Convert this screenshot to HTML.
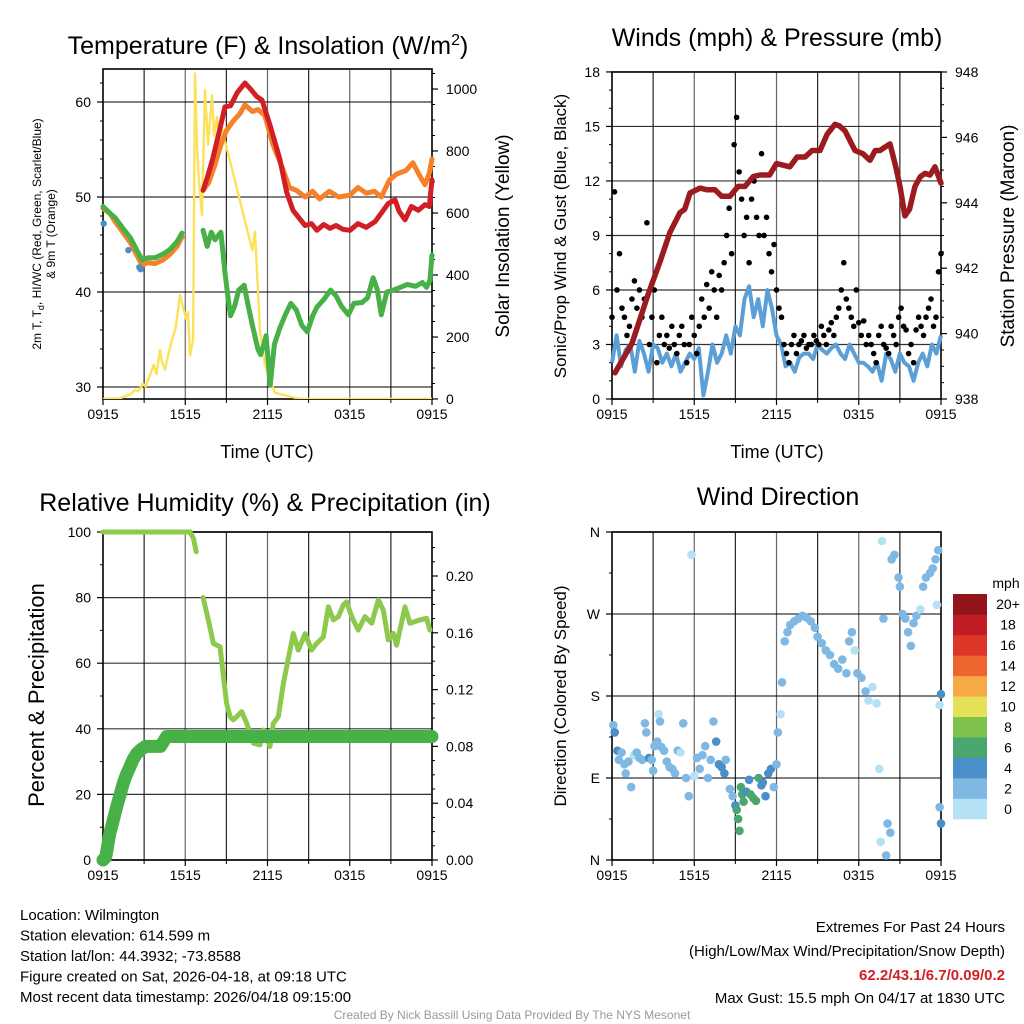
<!DOCTYPE html>
<html><head><meta charset="utf-8">
<style>
html,body{margin:0;padding:0;background:#fff;}
svg{display:block;font-family:"Liberation Sans",Arial,sans-serif;}
</style></head>
<body>
<svg id="c" width="1024" height="1024" viewBox="0 0 1024 1024" xmlns="http://www.w3.org/2000/svg"></svg>
<script>
// ---------- DATA ----------
const xTickLabels = ["0915","1515","2115","0315","0915"];
// Panel 1: temperatures [hour, F]
const tempEarly = [[0,49],[0.5,48.5],[0.9,47.6],[1.4,46.6],[2.0,45.4],[2.5,44],[2.85,43],[3.2,43.3],[3.8,43.2],[4.4,43.6],[4.9,44.2],[5.4,45],[5.76,46]];
const tempRed = [[7.3,50.7],[7.6,52],[8.0,54],[8.2,55.2],[8.5,57],[8.9,59.5],[9.3,59.6],[9.8,61],[10.36,62],[10.8,61.3],[11.2,60.6],[11.6,60.2],[12.2,57.5],[12.9,54],[13.4,50.5],[13.86,48.6],[14.3,47.8],[14.74,47],[15.2,47.2],[15.6,46.5],[16.1,47.1],[16.56,46.7],[17.0,47],[17.5,46.6],[18.02,46.5],[18.6,47.2],[19.2,46.8],[19.84,47.4],[20.4,48.5],[20.8,49.3],[21.3,49.7],[21.6,48.5],[22.03,47.6],[22.5,49],[23.0,48.6],[23.49,49.2],[23.8,49],[24,51.8]];
const tempOrange = [[7.3,50.7],[7.7,51.5],[8.17,53.4],[8.6,55.5],[9.0,57],[9.5,58],[10.0,58.8],[10.36,59.7],[10.9,59],[11.3,59.2],[11.8,58.6],[12.4,55.5],[13.1,53],[13.6,51],[14.1,50.7],[14.74,50],[15.3,50.6],[15.8,49.8],[16.5,50.6],[17.2,50],[18.02,50.2],[18.6,51],[19.2,50.4],[19.8,50.6],[20.3,50],[20.9,51.8],[21.4,52.4],[22.1,52.8],[22.6,53.6],[23.2,52],[23.49,51.3],[23.8,52.5],[24,54]];
const dewEarly = [[0,49],[0.5,48.3],[0.9,47.8],[1.4,46.8],[2.0,45.7],[2.5,44.3],[2.85,43.4],[3.3,43.6],[3.8,43.6],[4.4,44],[4.9,44.5],[5.4,45.3],[5.76,46.2]];
const dewGreen = [[7.3,46.5],[7.6,44.8],[7.9,46.3],[8.17,45.5],[8.6,46.3],[8.9,42],[9.1,39.7],[9.3,37.5],[9.6,38.5],[9.9,40.2],[10.3,40.7],[10.6,38.5],[10.9,36.5],[11.3,34],[11.5,33.4],[11.75,34.6],[11.9,35.4],[12.2,30.2],[12.5,34.5],[12.9,36.2],[13.3,37.6],[13.7,38.8],[14.1,38.1],[14.5,36.5],[14.9,35.8],[15.3,37.5],[15.6,38.4],[16.1,39.2],[16.6,40.2],[17.0,39.6],[17.4,38.5],[17.9,37.6],[18.3,38.8],[18.9,38.9],[19.3,39.4],[19.7,41.5],[20.0,40.3],[20.3,37.6],[20.7,40],[21.2,40.2],[21.7,40.5],[22.2,40.8],[22.8,40.6],[23.3,41],[23.6,40.5],[23.85,41.2],[24,43.9]];
const blueDots = [[0.05,47.2],[1.85,44.4],[2.65,42.6],[2.75,42.4]];
const solar = [[0,0],[1.2,2],[2.0,15],[2.33,29],[2.6,25],[2.9,50],[3.1,40],[3.43,77],[3.7,110],[3.9,80],[4.16,158],[4.3,120],[4.52,95],[4.8,150],[5.03,190],[5.3,230],[5.62,335],[5.84,295],[6.05,260],[6.2,280],[6.35,140],[6.57,190],[6.71,1050],[6.86,820],[7.0,700],[7.22,594],[7.44,997],[7.66,820],[7.95,980],[8.1,850],[8.32,910],[8.5,820],[8.68,870],[9.26,770],[9.99,640],[10.72,510],[10.9,480],[11.09,540],[11.45,220],[11.82,110],[12.18,60],[12.55,20],[13.64,8],[14.37,0],[24,0]];
// Panel 2: wind (mph) and pressure (mb)
const pressure = [[0.22,938.8],[1.46,939.7],[2.63,941.2],[3.5,942.2],[4.23,943.1],[4.96,943.7],[5.3,943.8],[5.69,944.3],[6.42,944.45],[6.9,944.4],[7.51,944.4],[8.0,944.2],[8.61,944.2],[9.2,944.5],[9.7,944.5],[10.3,944.8],[10.8,944.85],[11.5,944.85],[12.0,945.2],[12.98,945.1],[13.5,945.4],[14.08,945.4],[14.6,945.6],[15.17,945.6],[15.7,946.1],[16.27,946.4],[16.6,946.35],[17.0,946.2],[17.73,945.6],[18.3,945.5],[18.82,945.3],[19.2,945.6],[19.55,945.6],[19.9,945.7],[20.28,945.8],[20.7,945.1],[21.01,944.5],[21.37,943.6],[21.7,943.8],[22.1,944.5],[22.5,944.8],[22.83,944.9],[23.2,944.85],[23.56,945.1],[24,944.6]];
const windMean = [2,3.5,1.8,2.7,3,1.5,3.2,2.5,1.5,3,2.8,2,2.5,1.8,2.5,1.5,2,2.5,2.2,2.8,0.2,1.5,3,2,2.5,3.5,2.5,4,3.5,5.5,6.2,4.5,5.5,4,6,5,3.5,3,1.8,2,1.5,2.3,2.5,2.5,2.2,3,2.7,2.5,2.8,3,2.5,2.2,3,2.5,2,2,1.8,1.5,2,1,2.5,2.2,1.5,2.5,2,1.8,1,2,2.5,1.8,3,2.5,3.5];
const windGust = [4.5,11.4,6,8,5,4.5,3.5,4,5.5,6.5,5,6,4.5,5.5,9.7,3,4.5,6,2,3.5,4.5,3,3.5,2.8,4,3,2.5,3.5,4,3,2,3,4.5,3.5,2.5,4,5.5,4.5,6.3,5,7,6,4.5,6.8,6,7.5,9,10.5,8,14,15.5,12.5,11,9,10,7.5,11,12,10,9,13.5,9,10,8,7,8.5,6,5,4.5,3,2.5,2,3,3.5,2.5,3,3.2,3.5,2.8,3,3,3.5,3.2,3,4,3.5,3,3.8,4.2,3.5,4.5,5,6,7.5,5.5,5,4.5,4,6,4.2,3.5,4.3,3,3.5,3,2.5,2,3.5,4,3,2.8,2.5,4,3.5,3,4.5,5,4,3.8,2.5,3,2,3.8,4.5,4,3.5,4.5,5,5.5,4,4.5,7,8];
// Panel 3: RH (%) and precip (in)
const rhA = [[0,100],[3,100],[6.35,100],[6.6,98],[6.8,94]];
const rhB = [[7.3,80],[7.68,73.2],[8.05,66],[8.54,65],[8.78,55.9],[9.02,47.8],[9.27,43.7],[9.51,42.7],[10.12,45.2],[10.48,41.7],[10.97,35.6],[11.45,35.1],[11.7,39.6],[12.18,34.6],[12.43,41.7],[12.79,43.7],[13.16,53.9],[13.64,64],[13.88,69.1],[14.25,64],[14.74,69],[15.22,64],[15.58,66],[16.07,68],[16.44,77.2],[16.8,73.2],[17.17,74.2],[17.53,77.7],[17.77,78.7],[18.14,74.2],[18.62,70.1],[19.11,74.2],[19.6,72.2],[20.08,79.3],[20.45,76.2],[20.81,67.1],[21.18,69.1],[21.42,65.5],[22.03,77.2],[22.39,72.2],[23.12,73.2],[23.61,73.7],[23.85,70.1]];
const precip = [[0,0],[0.2,0.002],[0.5,0.019],[0.75,0.028],[1.0,0.0375],[1.25,0.046],[1.48,0.054],[1.7,0.06],[1.97,0.0657],[2.2,0.071],[2.46,0.075],[2.8,0.078],[3.1,0.08],[3.6,0.08],[4.2,0.08],[4.64,0.087],[24,0.087]];
// Panel 4: direction [hour, degrees, speedClass]
const dirPts = [[0.1,148,1],[0.2,140,2],[0.4,120,2],[0.5,110,1],[0.7,118,1],[0.9,105,1],[1.0,95,1],[1.2,108,1],[1.4,80,1],[1.6,115,0],[1.8,118,1],[2.0,112,1],[2.2,110,1],[2.4,150,1],[2.5,140,1],[2.7,112,2],[2.9,110,1],[3.0,98,1],[3.1,125,1],[3.3,130,1],[3.4,160,0],[3.5,152,1],[3.6,124,1],[3.8,120,1],[4.0,108,1],[4.2,102,1],[4.4,100,1],[4.6,95,1],[4.8,120,1],[5.0,118,0],[5.2,150,1],[5.4,90,1],[5.6,70,1],[5.8,335,0],[6.0,92,0],[6.2,112,1],[6.4,100,1],[6.6,115,1],[6.8,125,1],[7.0,90,1],[7.2,110,1],[7.4,152,1],[7.6,130,2],[7.8,105,2],[8.0,102,2],[8.2,95,2],[8.3,110,1],[8.6,78,1],[8.8,70,1],[9.0,60,2],[9.1,55,3],[9.2,45,3],[9.3,32,3],[9.4,80,3],[9.5,72,3],[9.6,64,3],[9.8,75,2],[10.0,88,2],[10.1,72,3],[10.3,68,3],[10.5,65,3],[10.7,90,3],[10.9,82,2],[11.0,85,2],[11.2,70,2],[11.4,95,2],[11.6,100,2],[11.8,80,1],[12.0,105,1],[12.1,140,1],[12.3,160,0],[12.4,195,1],[12.6,240,1],[12.8,250,1],[13.0,258,1],[13.3,262,1],[13.6,265,1],[13.9,268,1],[14.2,266,1],[14.5,262,1],[14.8,255,1],[15.0,245,1],[15.3,238,1],[15.6,230,1],[15.9,225,1],[16.2,215,1],[16.5,210,1],[16.8,220,1],[17.1,205,1],[17.3,240,1],[17.5,250,1],[17.7,230,0],[17.9,205,1],[18.2,200,1],[18.5,185,1],[18.7,175,0],[19.0,190,0],[19.3,172,0],[19.5,100,0],[19.6,20,0],[19.7,350,0],[19.8,265,1],[20.0,5,1],[20.1,40,1],[20.3,30,1],[20.4,330,1],[20.6,335,1],[20.9,310,1],[21.0,300,1],[21.2,270,1],[21.4,265,1],[21.6,250,1],[21.8,235,1],[22.0,260,1],[22.2,268,1],[22.5,275,0],[22.7,300,1],[22.9,310,1],[23.2,315,1],[23.4,320,1],[23.6,330,1],[23.8,340,1],[23.9,170,0],[24.0,182,2],[23.9,58,1],[24.0,40,2],[23.7,280,0]];
const speedLabels = ["0","2","4","6","8","10","12","14","16","18","20+"];
const speedColors = ["#b5e1f6","#7fb9e3","#4a8fc7","#4aa66e","#7dc14c","#e6df58","#f6a945","#ef6530","#dd3528","#c01d26","#921619"];

// ---------- HELPERS ----------
const NS="http://www.w3.org/2000/svg";
const svg=document.getElementById('c');
function el(tag,attrs,parent){const e=document.createElementNS(NS,tag);for(const k in attrs)e.setAttribute(k,attrs[k]);(parent||svg).appendChild(e);return e;}
function txt(s,x,y,size,anchor,parent,extra){const t=el('text',Object.assign({x:x,y:y,'font-size':size,'text-anchor':anchor||'middle',fill:'#000'},extra||{}),parent);t.textContent=s;return t;}
function path(pts,fx,fy){return pts.map((p,i)=>(i?'L':'M')+fx(p[0]).toFixed(1)+','+fy(p[1]).toFixed(1)).join('');}

function frame(px,py,pw,ph,name,leftTicks,lfy,lfmt,rightTicks,rfy,rfmt,minorL,minorR){
  const g=el('g',{});
  
  
  const fx=h=>px+h/24*pw;
  for(let h=3;h<24;h+=3){el('line',{x1:fx(h),y1:py,x2:fx(h),y2:py+ph,stroke:'#000','stroke-width':1.2,'stroke-opacity':h%6?0.85:0.6},g);}
  if(leftTicks){leftTicks.forEach(v=>{const y=lfy(v);el('line',{x1:px,y1:y,x2:px+pw,y2:y,stroke:'#000','stroke-width':1.2,'stroke-opacity':0.8},g);});}
  el('rect',{x:px,y:py,width:pw,height:ph,fill:'none',stroke:'#000','stroke-width':1.6},g);
  xTickLabels.forEach((l,i)=>{const x=fx(i*6);el('line',{x1:x,y1:py+ph,x2:x,y2:py+ph+6,stroke:'#000','stroke-width':1.2},g);txt(l,x,py+ph+20,14,'middle',g);});
  for(let h=3;h<24;h+=6){el('line',{x1:fx(h),y1:py+ph,x2:fx(h),y2:py+ph+4,stroke:'#000','stroke-width':1},g);}
  if(leftTicks){leftTicks.forEach(v=>{const y=lfy(v);el('line',{x1:px-6,y1:y,x2:px,y2:y,stroke:'#000','stroke-width':1.2},g);txt(lfmt(v),px-12,y+5,14,'end',g);});}
  if(minorL){minorL.forEach(v=>{const y=lfy(v);el('line',{x1:px-3,y1:y,x2:px,y2:y,stroke:'#000','stroke-width':1},g);});}
  if(rightTicks){rightTicks.forEach(v=>{const y=rfy(v);el('line',{x1:px+pw,y1:y,x2:px+pw+6,y2:y,stroke:'#000','stroke-width':1.2},g);txt(rfmt(v),px+pw+14,y+5,14,'start',g);});}
  if(minorR){minorR.forEach(v=>{const y=rfy(v);el('line',{x1:px+pw,y1:y,x2:px+pw+3,y2:y,stroke:'#000','stroke-width':1},g);});}
  return {g,fx};
}

// ---------- PANEL 1 ----------
(function(){
  const px=103,py=69,pw=329,ph=330;
  const fyT=v=>102+(60-v)*9.5, fyS=w=>399-w*0.31;
  const minL=[];for(let v=30;v<=62;v+=2)if(v%10)minL.push(v);
  const minR=[];for(let v=0;v<=1050;v+=50)if(v%200)minR.push(v);
  const {g,fx}=frame(px,py,pw,ph,'temperature-panel',[30,40,50,60],fyT,v=>String(v),[0,200,400,600,800,1000],fyS,v=>String(v),minL,minR);
  const cl=el('clipPath',{id:'cp1'});el('rect',{x:px,y:py,width:pw,height:ph},cl);
  const s=el('path',{d:path(solar,fx,fyS),fill:'none',stroke:'#fce15b','stroke-width':2.4,'stroke-linejoin':'round','clip-path':'url(#cp1)'},g);
  
  const a=el('path',{d:path(tempOrange,fx,fyT),fill:'none',stroke:'#f5812a','stroke-width':5,'stroke-linejoin':'round','stroke-linecap':'round'},g);
  
  const b=el('path',{d:path(tempRed,fx,fyT),fill:'none',stroke:'#d21f26','stroke-width':5,'stroke-linejoin':'round','stroke-linecap':'round'},g);
  
  const e1=el('path',{d:path(tempEarly,fx,v=>fyT(v)+2),fill:'none',stroke:'#f5812a','stroke-width':5,'stroke-linecap':'round'},g);
  
  blueDots.forEach(p=>{const c=el('circle',{cx:fx(p[0]),cy:fyT(p[1]),r:3.2,fill:'#4a8fc7'},g);
    });
  const d1=el('path',{d:path(dewEarly,fx,fyT),fill:'none',stroke:'#47b046','stroke-width':5,'stroke-linecap':'round'},g);
  
  const d2=el('path',{d:path(dewGreen,fx,fyT),fill:'none',stroke:'#47b046','stroke-width':5,'stroke-linejoin':'round','stroke-linecap':'round'},g);
  
  const t=txt('',268,54,25,'middle',g);t.innerHTML='Temperature (F) &amp; Insolation (W/m<tspan dy="-9" font-size="16">2</tspan><tspan dy="9">)</tspan>';
  
  const xl=txt('Time (UTC)',267,458,18,'middle',g);
  const yl=el('text',{transform:'translate(41,234) rotate(-90)','font-size':12,'text-anchor':'middle'},g);
  yl.innerHTML='2m T, T<tspan dy="3" font-size="9">d</tspan><tspan dy="-3">, HI/WC (Red, Green, Scarlet/Blue)</tspan>';
  
  const yl2=txt('',0,0,12,'middle',g,{transform:'translate(55,234) rotate(-90)'});yl2.textContent='& 9m T (Orange)';
  
  const yr=txt('Solar Insolation (Yellow)',0,0,19,'middle',g,{transform:'translate(509,236) rotate(-90)'});
  
})();

// ---------- PANEL 2 ----------
(function(){
  const px=612,py=72,pw=329,ph=327;
  const fyW=m=>399-m*18.17, fyP=p=>399-(p-938)*32.7;
  const minL=[];for(let v=1;v<18;v++)if(v%3)minL.push(v);
  const minR=[];for(let v=938.5;v<948;v+=0.5)if(v%2)minR.push(v);
  const {g,fx}=frame(px,py,pw,ph,'wind-pressure-panel',[0,3,6,9,12,15,18],fyW,v=>String(v),[938,940,942,944,946,948],fyP,v=>String(v),minL,minR);
  const wm=windMean.map((v,i)=>[i*24/(windMean.length-1),v]);
  const w=el('path',{d:path(wm,fx,fyW),fill:'none',stroke:'#5b9fd6','stroke-width':4,'stroke-linejoin':'round'},g);
  
  windGust.forEach((v,i)=>{const c=el('circle',{cx:fx(i*24/(windGust.length-1)),cy:fyW(v),r:2.8,fill:'#000'},g);
    });
  const p=el('path',{d:path(pressure,fx,fyP),fill:'none',stroke:'#9b1b1e','stroke-width':5.5,'stroke-linejoin':'round','stroke-linecap':'round'},g);
  
  const t=txt('Winds (mph) & Pressure (mb)',777,46,25,'middle',g);
  const xl=txt('Time (UTC)',777,458,18,'middle',g);
  const yl=txt('Sonic/Prop Wind & Gust (Blue, Black)',0,0,17,'middle',g,{transform:'translate(566,236) rotate(-90)'});
  
  const yr=txt('Station Pressure (Maroon)',0,0,19,'middle',g,{transform:'translate(1014,236) rotate(-90)'});
  
})();

// ---------- PANEL 3 ----------
(function(){
  const px=103,py=532,pw=329,ph=328;
  const fyR=r=>860-r*3.28, fyPr=p=>860-p*1420;
  const minL=[10,30,50,70,90];
  const minR=[];for(let v=0.01;v<0.23;v+=0.01){const r=Math.round(v*100);if(r%4)minR.push(r/100);}
  const {g,fx}=frame(px,py,pw,ph,'humidity-panel',[0,20,40,60,80,100],fyR,v=>String(v),[0,0.04,0.08,0.12,0.16,0.20],fyPr,v=>v.toFixed(2),minL,minR);
  const a=el('path',{d:path(rhA,fx,fyR),fill:'none',stroke:'#8cc94c','stroke-width':5,'stroke-linecap':'round'},g);
  
  const b=el('path',{d:path(rhB,fx,fyR),fill:'none',stroke:'#8cc94c','stroke-width':5,'stroke-linejoin':'round','stroke-linecap':'round'},g);
  
  const pr=el('path',{d:path(precip,fx,fyPr),fill:'none',stroke:'#47b046','stroke-width':13,'stroke-linejoin':'round','stroke-linecap':'round'},g);
  
  const t=txt('Relative Humidity (%) & Precipitation (in)',265,511,25,'middle',g);
  const yl=txt('Percent & Precipitation',0,0,22,'middle',g,{transform:'translate(44,695) rotate(-90)'});
  
})();

// ---------- PANEL 4 ----------
(function(){
  const px=612,py=532,pw=329,ph=328;
  const fyD=d=>860-d*328/360;
  const labs=['N','E','S','W','N'];
  const minL=[45,135,225,315];
  const {g,fx}=frame(px,py,pw,ph,'wind-direction-panel',[0,90,180,270,360],fyD,v=>labs[v/90],null,null,null,minL,null);
  dirPts.forEach(p=>{const c=el('circle',{cx:fx(p[0]),cy:fyD(p[1]),r:4.3,fill:speedColors[p[2]]},g);
    });
  const t=txt('Wind Direction',778,505,25,'middle',g);
  const yl=txt('Direction (Colored By Speed)',0,0,17,'middle',g,{transform:'translate(566,696) rotate(-90)'});
  
  const lg=el('g',{});
  const bh=225/speedColors.length;
  speedColors.forEach((c,i)=>{const yy=819-(i+1)*bh;const r=el('rect',{x:953,y:yy,width:34,height:bh+0.3,fill:c},lg);
    
    txt(speedLabels[i],1008,yy+bh/2+5,14,'middle',lg);});
  txt('mph',1006,588,14,'middle',lg);
})();

// ---------- FOOTER TEXT ----------
(function(){
  const info=['Location: Wilmington','Station elevation: 614.599 m','Station lat/lon: 44.3932; -73.8588','Figure created on Sat, 2026-04-18, at 09:18 UTC','Most recent data timestamp: 2026/04/18 09:15:00'];
  const g=el('g',{});
  info.forEach((s,i)=>txt(s,20,920+i*20.5,15,'start',g));
  const r=el('g',{});
  txt('Extremes For Past 24 Hours',1005,932,15,'end',r);
  txt('(High/Low/Max Wind/Precipitation/Snow Depth)',1005,956,15,'end',r);
  txt('62.2/43.1/6.7/0.09/0.2',1005,980,15,'end',r,{fill:'#d21f26','font-weight':'bold'});
  txt('Max Gust: 15.5 mph On 04/17 at 1830 UTC',1005,1003,15,'end',r);
  const c=txt('Created By Nick Bassill Using Data Provided By The NYS Mesonet',512,1019,12,'middle');
  c.setAttribute('fill','#999');
})();
</script>
</body></html>
